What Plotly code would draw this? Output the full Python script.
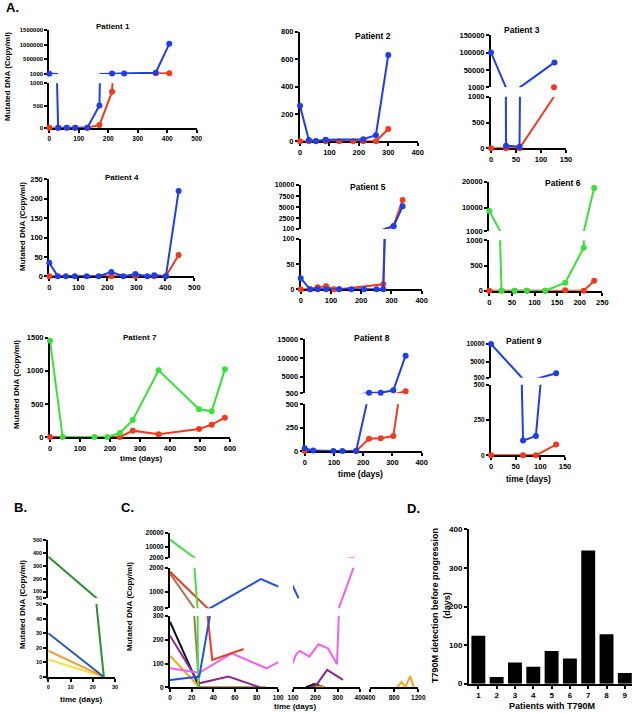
import plotly.graph_objects as go

W, H = 635, 714
FONT = "Liberation Sans"

BLUE = "#1e3ee8"
RED = "#f03a1e"
GREEN = "#3ae03a"

# ---------------- Panel A data (days, copies/ml) ----------------
p1_blue_days = [0, 30, 59, 88, 129, 170, 213, 254, 361, 407]
p1_blue_dna = [8000, 0, 0, 0, 0, 500, 15000, 15000, 45000, 1030000]
p1_red_days = [0, 30, 59, 88, 129, 170, 213, 361, 407]
p1_red_dna = [0, 0, 0, 0, 0, 60, 811, 25000, 30000]

p2_blue_days = [0, 30, 54, 87, 215, 258, 300]
p2_blue_dna = [260, 10, 2, 12, 15, 45, 630]
p2_red_days = [0, 30, 54, 87, 133, 181, 215, 258, 300]
p2_red_dna = [0, 0, 0, 0, 0, 0, 0, 0, 90]

p3_blue_days = [0, 30, 57, 127]
p3_blue_dna = [100000, 50, 30, 72000]
p3_red_days = [0, 30, 57, 126]
p3_red_dna = [0, 0, 0, 1000]

p4_blue_days = [0, 29, 57, 88, 129, 170, 214, 255, 297, 338, 362, 402, 446]
p4_blue_dna = [35, 0, 0, 0, 0, 0, 11, 0, 6, 0, 3, 0, 220]
p4_red_days = [0, 214, 297, 362, 402, 446]
p4_red_dna = [0, 0, 0, 0, 0, 55]

p5_blue_days = [0, 31, 56, 84, 127, 167, 209, 251, 273, 307, 337]
p5_blue_dna = [22, 0, 0, 0, 0, 0, 0, 0, 0, 700, 5200]
p5_red_days = [0, 31, 56, 84, 110, 127, 273, 307, 337]
p5_red_dna = [0, 0, 4, 6, 0, 0, 10, 800, 6600]

p6_green_days = [0, 27, 56, 83, 124, 168, 209, 232]
p6_green_dna = [8700, 0, 0, 0, 0, 159, 853, 17600]
p6_red_days = [0, 27, 56, 83, 124, 168, 209, 232]
p6_red_dna = [0, 0, 0, 0, 0, 10, 0, 198]

p7_green_days = [0, 42, 148, 191, 233, 276, 362, 497, 539, 583]
p7_green_dna = [1455, 0, 0, 0, 60, 257, 1007, 418, 388, 1022]
p7_red_days = [0, 233, 276, 362, 497, 539, 583]
p7_red_dna = [0, 0, 96, 40, 121, 186, 292]

p8_blue_days = [0, 29, 98, 129, 176, 220, 260, 303, 345]
p8_blue_dna = [29, 4, 0, 0, 0, 620, 620, 1300, 10600]
p8_red_days = [0, 176, 220, 260, 303, 345]
p8_red_dna = [0, 0, 132, 136, 160, 1040]

p9_blue_days = [0, 65, 91, 132]
p9_blue_dna = [10000, 104, 137, 1740]
p9_red_days = [0, 65, 91, 132]
p9_red_dna = [0, 0, 0, 76]

# ---------------- Panel B data ----------------
b_days = [0, 25]
b_green = [370, 0]
b_blue = [30, 0]
b_orange = [18, 0]
b_yellow = [12, 0]

# ---------------- Panel C data ----------------
c_green_days = [0, 26]
c_green_dna = [15000, 0]
c_red_days = [0, 39, 68]
c_red_dna = [1830, 115, 161]
c_brown_days = [0, 27, 88]
c_brown_dna = [1750, 0, 0]
c_black_days = [0, 27, None, 158, 195, 241]
c_black_dna = [276, 0, None, 0, 14, 0]
c_purple_days = [0, 27, 54, 83, None, 180, 205, 253, 324]
c_purple_dna = [217, 17, 45, 0, None, 0, 10, 73, 31]
c_orange_days = [0, 27, None, 200, 222, 240, None, 850, 925, 985, 1065, 1125]
c_orange_dna = [133, 0, None, 0, 4, 0, None, 0, 23, 0, 47, 0]
c_magenta_days = [0, 27, 57, 89, 115, 130, 173, 214, 256, 297, 375]
c_magenta_dna = [80, 61, 143, 80, 140, 153, 129, 181, 164, 97, 2100]
c_blue_days = [0, 27, 84, 125]
c_blue_dna = [31, 45, 1527, 720]

# ---------------- Panel D data ----------------
d_patients = [1, 2, 3, 4, 5, 6, 7, 8, 9]
d_days = [124, 17, 55, 44, 85, 65, 345, 128, 28]

# ---------------- tick values ----------------
tk = dict(
    p1x=[0, 100, 200, 300, 400, 500], p1yu=[1000, 500000, 1000000, 1500000], p1yl=[0, 500, 1000],
    p2x=[0, 100, 200, 300, 400], p2y=[0, 200, 400, 600, 800],
    p3x=[0, 50, 100, 150], p3yu=[1000, 50000, 100000, 150000], p3yl=[0, 500, 1000],
    p4x=[0, 100, 200, 300, 400, 500], p4y=[0, 50, 100, 150, 200, 250],
    p5x=[0, 100, 200, 300, 400], p5yu=[100, 2500, 5000, 7500, 10000], p5yl=[0, 50, 100],
    p6x=[0, 50, 100, 150, 200, 250], p6yu=[1000, 10000, 20000], p6yl=[0, 500, 1000],
    p7x=[0, 100, 200, 300, 400, 500, 600], p7y=[0, 500, 1000, 1500],
    p8x=[0, 100, 200, 300, 400], p8yu=[500, 5000, 10000, 15000], p8yl=[0, 250, 500],
    p9x=[0, 50, 100, 150], p9yu=[500, 5000, 10000], p9yl=[0, 250, 500],
    bx=[0, 10, 20, 30], byu=[50, 100, 200, 300, 400, 500], byl=[0, 10, 20, 30, 40, 50],
    cx1=[0, 20, 40, 60, 80, 100], cx2=[100, 200, 300, 400], cx3=[400, 800, 1200],
    cyt=[2000, 10000, 20000], cym=[300, 1000, 2000], cyb=[0, 100, 200, 300],
    dy=[0, 100, 200, 300, 400],
)

traces = []
axes = {}
annots = []
counter = {"n": 0}


def tfont(size):
    return dict(family=FONT, size=size, color="black", weight="bold")


def seg(p0, p1, r0, r1, ticks):
    return dict(px=(p0, p1), r=(r0, r1), ticks=ticks)


def visible_path(xs, ys, xr, yr, is_top, is_bottom):
    """Keep only the original line pieces that touch this axis segment."""
    lo, hi = yr
    ox, oy = [], []
    last = None
    for i in range(len(xs) - 1):
        ax, ay, bx, by = xs[i], ys[i], xs[i + 1], ys[i + 1]
        if None in (ax, ay, bx, by):
            continue
        if is_bottom:
            if ay < lo and by < lo:
                continue
        elif ay <= lo and by <= lo:
            continue
        if is_top:
            if ay > hi and by > hi:
                continue
        elif ay >= hi and by >= hi:
            continue
        if (ax < xr[0] and bx < xr[0]) or (ax > xr[1] and bx > xr[1]):
            continue
        if last != i:
            if ox:
                ox.append(None)
                oy.append(None)
            ox.append(ax)
            oy.append(ay)
        ox.append(bx)
        oy.append(by)
        last = i + 1
    return ox, oy


def add_panel(xsegs, ysegs, series, xsize, ysize, markers=True):
    ny = len(ysegs)
    for j, ys in enumerate(ysegs):
        for i, xs in enumerate(xsegs):
            counter["n"] += 1
            k = counter["n"]
            sfx = "" if k == 1 else str(k)
            xref, yref = "x" + sfx, "y" + sfx
            bottom = j == ny - 1
            top = j == 0
            left = i == 0
            xpad = (xs["r"][1] - xs["r"][0]) * 1e-4
            ypad = (ys["r"][1] - ys["r"][0]) * 1e-4
            common = dict(showline=True, linecolor="black", linewidth=2, ticks="outside",
                          ticklen=3, tickwidth=1.5, tickcolor="black", tickmode="array",
                          showgrid=False, zeroline=False, layer="below traces",
                          fixedrange=True, automargin=False)
            axes["xaxis" + sfx] = dict(domain=[xs["px"][0] / W, xs["px"][1] / W],
                                       range=[xs["r"][0] - xpad, xs["r"][1] + xpad],
                                       anchor=yref, visible=bottom,
                                       tickvals=xs["ticks"],
                                       ticktext=[str(v) for v in xs["ticks"]],
                                       tickfont=tfont(xsize), **common)
            axes["yaxis" + sfx] = dict(domain=[1 - ys["px"][1] / H, 1 - ys["px"][0] / H],
                                       range=[ys["r"][0] - ypad, ys["r"][1] + ypad],
                                       anchor=xref, visible=left,
                                       tickvals=ys["ticks"],
                                       ticktext=[str(v) for v in ys["ticks"]],
                                       tickfont=tfont(ysize), **common)
            xr, yr = xs["r"], ys["r"]
            for s in series:
                if s.get("bar"):
                    traces.append(go.Bar(x=s["x"], y=s["y"],
                                         marker=dict(color=s["color"], line=dict(width=0)),
                                         xaxis=xref, yaxis=yref, hoverinfo="skip"))
                    continue
                lx, ly = visible_path(s["x"], s["y"], xr, yr, top, bottom)
                if lx:
                    traces.append(go.Scatter(x=lx, y=ly, mode="lines",
                                             line=dict(color=s["color"], width=2),
                                             xaxis=xref, yaxis=yref, hoverinfo="skip",
                                             connectgaps=False))
                if markers:
                    pts = [(a, b) for a, b in zip(s["x"], s["y"])
                           if a is not None and b is not None
                           and xr[0] <= a <= xr[1]
                           and yr[0] <= b and (b < yr[1] or top)]
                    if pts:
                        traces.append(go.Scatter(x=[p[0] for p in pts], y=[p[1] for p in pts],
                                                 mode="markers",
                                                 marker=dict(color=s["color"], size=6),
                                                 cliponaxis=False, xaxis=xref, yaxis=yref,
                                                 hoverinfo="skip"))


def ser(x, y, color):
    return dict(x=x, y=y, color=color)


def note(text, x, y, size, angle=0):
    annots.append(dict(text=text, x=x / W, y=1 - y / H, xref="paper", yref="paper",
                       showarrow=False, xanchor="center", yanchor="middle",
                       textangle=angle, font=tfont(size)))


# ---------------- Panel A ----------------
add_panel([seg(49.3, 196.7, 0, 500, tk["p1x"])],
          [seg(30, 74, 1000, 1500000, tk["p1yu"]), seg(83.3, 127.7, 0, 1000, tk["p1yl"])],
          [ser(p1_red_days, p1_red_dna, RED), ser(p1_blue_days, p1_blue_dna, BLUE)], 6.5, 6)
add_panel([seg(300, 417.7, 0, 400, tk["p2x"])],
          [seg(31.7, 141.3, 0, 800, tk["p2y"])],
          [ser(p2_red_days, p2_red_dna, RED), ser(p2_blue_days, p2_blue_dna, BLUE)], 7.5, 7.5)
add_panel([seg(491, 566, 0, 150, tk["p3x"])],
          [seg(35, 87.3, 1000, 150000, tk["p3yu"]), seg(96.7, 148.3, 0, 1000, tk["p3yl"])],
          [ser(p3_red_days, p3_red_dna, RED), ser(p3_blue_days, p3_blue_dna, BLUE)], 7.5, 7.5)
add_panel([seg(49.3, 194.3, 0, 500, tk["p4x"])],
          [seg(179.3, 276.3, 0, 250, tk["p4y"])],
          [ser(p4_red_days, p4_red_dna, RED), ser(p4_blue_days, p4_blue_dna, BLUE)], 7.5, 7.5)
add_panel([seg(300.7, 421.7, 0, 400, tk["p5x"])],
          [seg(185, 229, 100, 10000, tk["p5yu"]), seg(239, 289.3, 0, 100, tk["p5yl"])],
          [ser(p5_red_days, p5_red_dna, RED), ser(p5_blue_days, p5_blue_dna, BLUE)], 7.5, 7)
add_panel([seg(489.3, 602.3, 0, 250, tk["p6x"])],
          [seg(181.7, 231, 1000, 20000, tk["p6yu"]), seg(240.3, 290.7, 0, 1000, tk["p6yl"])],
          [ser(p6_red_days, p6_red_dna, RED), ser(p6_green_days, p6_green_dna, GREEN)], 7.5, 7.5)
add_panel([seg(50, 230, 0, 600, tk["p7x"])],
          [seg(337.7, 437, 0, 1500, tk["p7y"])],
          [ser(p7_red_days, p7_red_dna, RED), ser(p7_green_days, p7_green_dna, GREEN)], 7.5, 7.5)
add_panel([seg(304.7, 421.7, 0, 400, tk["p8x"])],
          [seg(339.3, 393.3, 500, 15000, tk["p8yu"]), seg(404.3, 451, 0, 500, tk["p8yl"])],
          [ser(p8_red_days, p8_red_dna, RED), ser(p8_blue_days, p8_blue_dna, BLUE)], 7.5, 7.5)
add_panel([seg(491, 565, 0, 150, tk["p9x"])],
          [seg(344, 377.7, 500, 10000, tk["p9yu"]), seg(384.7, 455.3, 0, 500, tk["p9yl"])],
          [ser(p9_red_days, p9_red_dna, RED), ser(p9_blue_days, p9_blue_dna, BLUE)], 7.5, 6.5)

# ---------------- Panel B ----------------
add_panel([seg(48.3, 115, 0, 30, tk["bx"])],
          [seg(540, 598, 50, 500, tk["byu"]), seg(604, 677, 0, 50, tk["byl"])],
          [ser(b_days, b_yellow, "#f2e24a"), ser(b_days, b_orange, "#f0a040"),
           ser(b_days, b_blue, "#2a5aa8"), ser(b_days, b_green, "#2e8b2e")],
          5.5, 5.5, markers=False)

# ---------------- Panel C ----------------
add_panel([seg(170, 278.3, 0, 100, tk["cx1"]), seg(293, 360, 100, 400, tk["cx2"]),
           seg(370, 418.3, 400, 1200, tk["cx3"])],
          [seg(532.7, 557.7, 2000, 20000, tk["cyt"]), seg(567.7, 608.3, 300, 2000, tk["cym"]),
           seg(616, 687.3, 0, 300, tk["cyb"])],
          [ser(c_brown_days, c_brown_dna, "#a8784a"),
           ser(c_black_days, c_black_dna, "#111111"),
           ser(c_orange_days, c_orange_dna, "#f5a623"),
           ser(c_purple_days, c_purple_dna, "#8b2a8b"),
           ser(c_magenta_days, c_magenta_dna, "#f060f0"),
           ser(c_red_days, c_red_dna, "#ee3a22"),
           ser(c_green_days, c_green_dna, "#44e044"),
           ser(c_blue_days, c_blue_dna, "#2050e0")],
          6.5, 6.5, markers=False)

# ---------------- Panel D ----------------
add_panel([seg(469, 632, 0.49, 9.39, d_patients)],
          [seg(529.3, 683.7, 0, 400, tk["dy"])],
          [dict(x=d_patients, y=d_days, color="black", bar=True)], 8, 8, markers=False)

# ---------------- Text ----------------
note("A.", 12, 8, 13)
note("B.", 20, 507, 13)
note("C.", 127, 507, 13)
note("D.", 413, 508, 13)

for t, x, y, s in [("Patient 1", 113, 27, 8), ("Patient 2", 373, 36, 8.5), ("Patient 3", 522, 30, 8.5),
                   ("Patient 4", 121.7, 177.7, 8), ("Patient 5", 367.7, 187.3, 8.5),
                   ("Patient 6", 563.3, 183.3, 8.5), ("Patient 7", 140, 337.3, 8),
                   ("Patient 8", 371.7, 337.7, 8.5), ("Patient 9", 524, 341, 8.5)]:
    note(t, x, y, s)

ytitle = "Mutated DNA (Copy/ml)"
note(ytitle, 7, 77, 8, -90)
note(ytitle, 22, 227, 8, -90)
note(ytitle, 16, 385, 8, -90)
note(ytitle, 22, 605, 8, -90)
note(ytitle, 129, 607, 8, -90)

note("time (days)", 141.7, 458.3, 8)
note("time (days)", 360, 474.3, 8.5)
note("time (days)", 528, 479, 8.5)
note("time (days)", 81, 699, 8)
note("time (days)", 295, 706, 8)

note("T790M detection before progression<br>(days)", 441, 606, 9, -90)
note("Patients with T790M", 551.7, 706, 9)

fig = go.Figure(data=traces)
fig.update_layout(width=W, height=H, margin=dict(l=0, r=0, t=0, b=0), template="none",
                  paper_bgcolor="white", plot_bgcolor="rgba(0,0,0,0)", showlegend=False,
                  bargap=0.24, annotations=annots, font=dict(family=FONT, color="black"),
                  **axes)
fig.write_html("out.html", config={"displayModeBar": False},
               post_script="document.body.style.margin='0px';")
